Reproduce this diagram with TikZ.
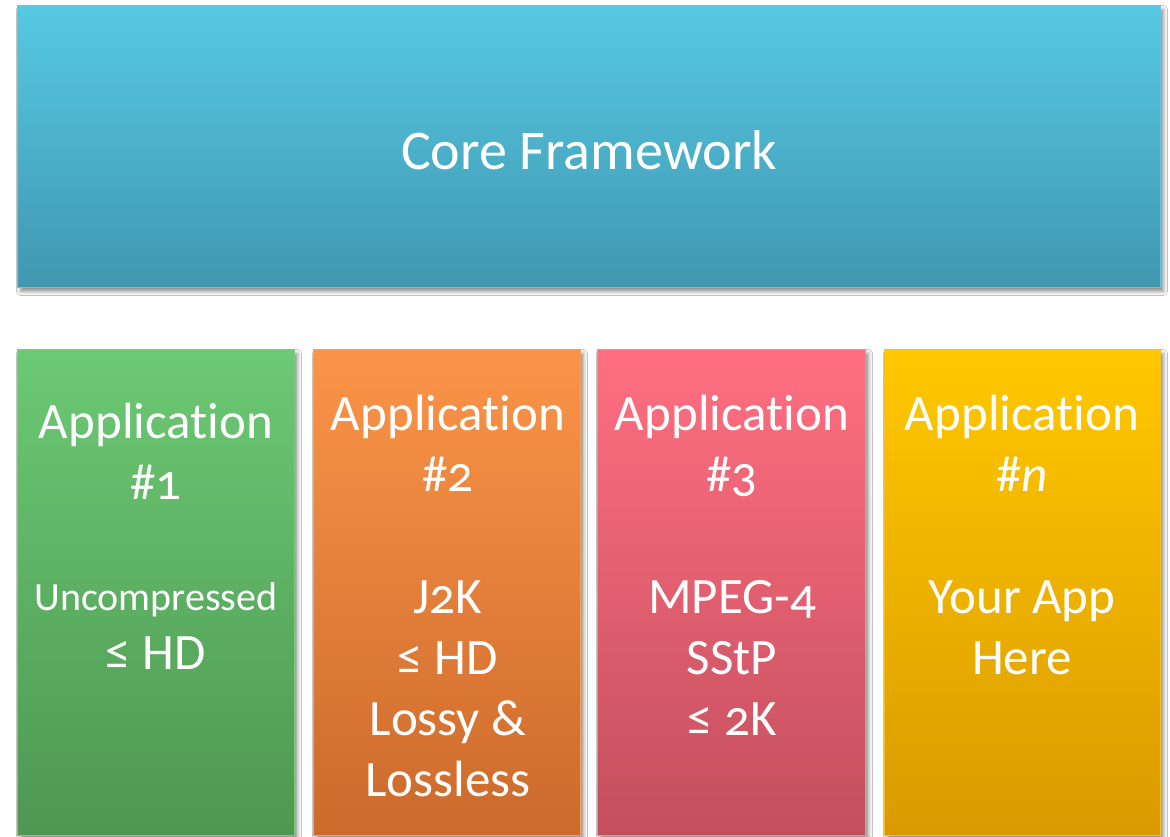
\documentclass[tikz,border=0pt]{standalone}
\usepackage{fontspec}
\setmainfont{Carlito}[Numbers=OldStyle, Ligatures=NoCommon]
\usetikzlibrary{shadows.blur}
\definecolor{topA}{HTML}{57C9E3}
\definecolor{topB}{HTML}{4097B0}
\definecolor{topE}{HTML}{6CC4DA}
\definecolor{grA}{HTML}{6CC974}
\definecolor{grB}{HTML}{4E9751}
\definecolor{grE}{HTML}{7CC982}
\definecolor{orA}{HTML}{FA9448}
\definecolor{orB}{HTML}{CC6A2C}
\definecolor{orE}{HTML}{F6A060}
\definecolor{rdA}{HTML}{FF6F81}
\definecolor{rdB}{HTML}{C34F5E}
\definecolor{rdE}{HTML}{F58A98}
\definecolor{ylA}{HTML}{FFC800}
\definecolor{ylB}{HTML}{D99A00}
\definecolor{ylE}{HTML}{F2BE2A}
\tikzset{
  box/.style={rectangle, inner sep=0pt, line width=1pt,
    blur shadow={shadow xshift=3pt, shadow yshift=-4pt, shadow blur radius=4pt, shadow opacity=45}},
  big/.style={font=\fontsize{51}{61}\selectfont, text=white, align=center, inner sep=0pt},
}
\begin{document}
\begin{tikzpicture}[x=1pt,y=-1pt]
\useasboundingbox[fill=white] (0,0) rectangle (1170,837);
% top box
\node[box, draw=topE, top color=topA, bottom color=topB, minimum width=1143pt, minimum height=282pt, anchor=north west] (core) at (17,5) {};
\node[font=\fontsize{56}{66}\selectfont, text=white, inner sep=0pt] (coretxt) at (589,150) {Core Framework};
% application boxes
\node[box, draw=grE, top color=grA, bottom color=grB, minimum width=277pt, minimum height=486pt, anchor=north west] (app1) at (17,349) {};
\node[box, draw=orE, top color=orA, bottom color=orB, minimum width=267pt, minimum height=486pt, anchor=north west] (app2) at (313,349) {};
\node[box, draw=rdE, top color=rdA, bottom color=rdB, minimum width=268pt, minimum height=486pt, anchor=north west] (app3) at (597,349) {};
\node[box, draw=ylE, top color=ylA, bottom color=ylB, minimum width=276pt, minimum height=486pt, anchor=north west] (app4) at (884,349) {};
% texts
\node[big, anchor=north] (t1) at (156,403) {Application\\\#1\\[50pt]{\fontsize{40}{48}\selectfont Uncompressed}\\[-2pt]≤ HD};
\node[big, anchor=north] (t2) at (448,395) {Application\\\#2\\[61pt]J2K\\≤ HD\\Lossy \&\\Lossless};
\node[big, anchor=north] (t3) at (732,395) {Application\\\#3\\[61pt]MPEG-4\\SStP\\≤ 2K};
\node[big, anchor=north] (t4) at (1022,395) {Application\\\#\textit{n}\\[61pt]Your App\\Here};
\end{tikzpicture}
\end{document}
